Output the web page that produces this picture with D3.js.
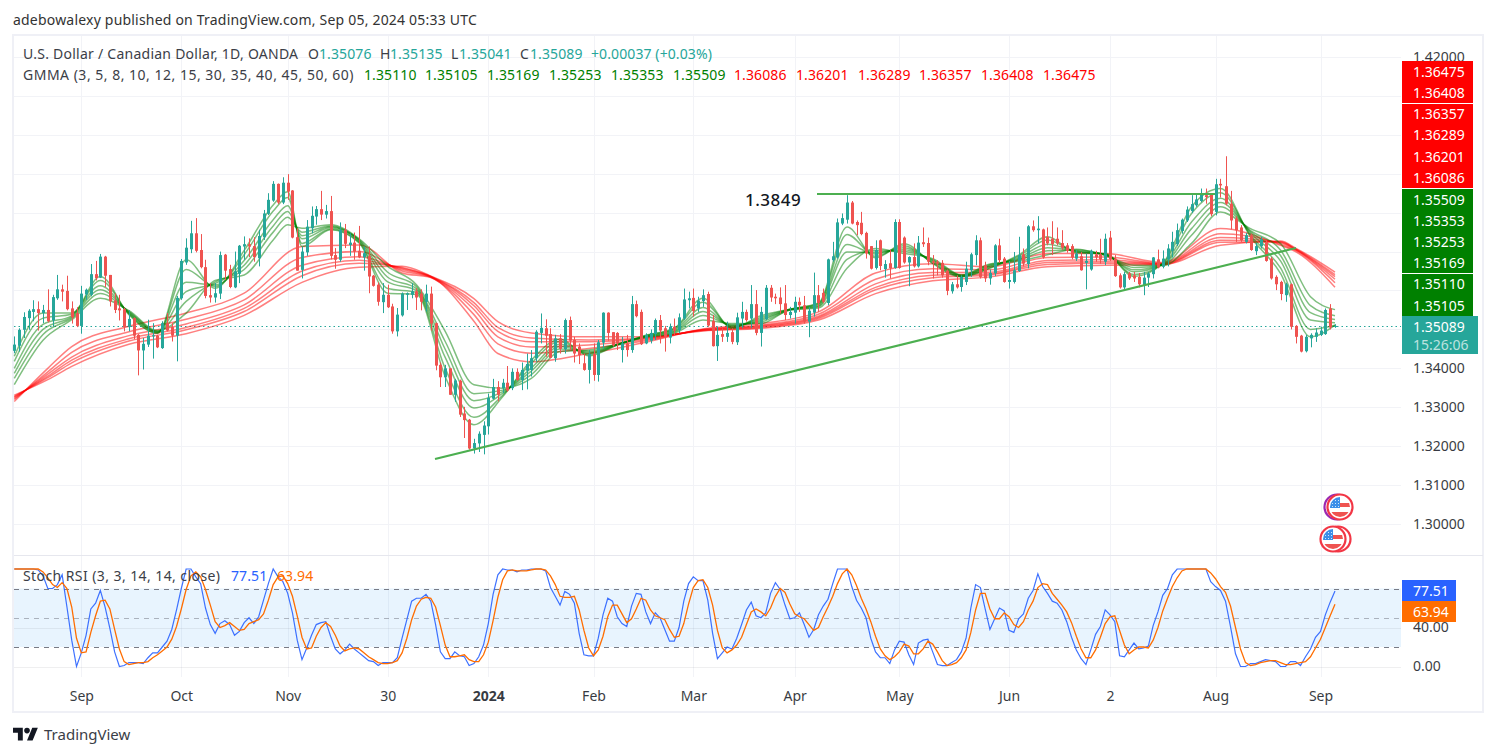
<!DOCTYPE html>
<html>
<head>
<meta charset="utf-8">
<script src="https://cdn.jsdelivr.net/npm/d3@7"></script>
<style>
  html, body { margin: 0; padding: 0; background: #fff; overflow: hidden; }
  text { font-family: "Noto Sans", sans-serif; }
</style>
</head>
<body>
<div id="chart"></div>
<script>
// candles
const opens = [
1.3445,1.3458,1.3499,1.3529,1.3545,1.3552,1.3542,1.3550,1.3523,1.3580,
1.3603,1.3599,1.3554,1.3542,1.3509,1.3590,1.3589,1.3642,1.3633,1.3687,
1.3640,1.3574,1.3554,1.3552,1.3506,1.3529,1.3486,1.3446,1.3461,1.3482,
1.3484,1.3452,1.3516,1.3506,1.3484,1.3580,1.3672,1.3706,1.3747,1.3704,
1.3660,1.3588,1.3582,1.3592,1.3692,1.3655,1.3608,1.3643,1.3713,1.3719,
1.3714,1.3683,1.3737,1.3797,1.3831,1.3874,1.3826,1.3877,1.3857,1.3737,
1.3653,1.3698,1.3760,1.3790,1.3809,1.3795,1.3804,1.3691,1.3679,1.3756,
1.3717,1.3723,1.3702,1.3685,1.3689,1.3638,1.3615,1.3570,1.3589,1.3559,
1.3495,1.3536,1.3589,1.3589,1.3598,1.3592,1.3571,1.3592,1.3516,1.3409,
1.3377,1.3400,1.3332,1.3368,1.3284,1.3268,1.3194,1.3207,1.3229,1.3251,
1.3322,1.3352,1.3349,1.3363,1.3349,1.3391,1.3370,1.3394,1.3396,1.3426,
1.3491,1.3503,1.3488,1.3426,1.3477,1.3449,1.3524,1.3473,1.3456,1.3413,
1.3396,1.3437,1.3383,1.3466,1.3543,1.3493,1.3491,1.3447,1.3464,1.3447,
1.3565,1.3545,1.3464,1.3471,1.3488,1.3524,1.3503,1.3479,1.3507,1.3498,
1.3528,1.3575,1.3581,1.3554,1.3573,1.3591,1.3522,1.3457,1.3488,1.3481,
1.3493,1.3467,1.3528,1.3545,1.3528,1.3565,1.3491,1.3526,1.3607,1.3584,
1.3582,1.3567,1.3537,1.3543,1.3571,1.3562,1.3520,1.3543,1.3588,1.3594,
1.3568,1.3678,1.3685,1.3772,1.3782,1.3826,1.3776,1.3774,1.3748,1.3714,
1.3658,1.3729,1.3655,1.3670,1.3658,1.3776,1.3736,1.3672,1.3686,1.3662,
1.3724,1.3722,1.3675,1.3674,1.3671,1.3651,1.3598,1.3616,1.3609,1.3622,
1.3652,1.3691,1.3729,1.3665,1.3631,1.3644,1.3716,1.3682,1.3622,1.3622,
1.3650,1.3693,1.3668,1.3765,1.3755,1.3757,1.3738,1.3733,1.3733,1.3722,
1.3716,1.3714,1.3682,1.3688,1.3671,1.3654,1.3693,1.3693,1.3674,1.3736,
1.3682,1.3639,1.3608,1.3644,1.3639,1.3635,1.3614,1.3633,1.3642,1.3680,
1.3661,1.3680,1.3702,1.3719,1.3753,1.3780,1.3804,1.3819,1.3830,1.3845,
1.3847,1.3802,1.3874,1.3868,1.3823,1.3785,1.3762,1.3725,1.3742,1.3701,
1.3714,1.3725,1.3682,1.3635,1.3622,1.3588,1.3616,1.3509,1.3484,1.3444,
1.3477,1.3481,1.3486,1.3488,1.3554,1.35076];
const highs = [
1.3482,1.3503,1.3544,1.3552,1.3575,1.3572,1.3563,1.3603,1.3589,1.3640,
1.3615,1.3638,1.3572,1.3557,1.3612,1.3605,1.3668,1.3676,1.3694,1.3689,
1.3640,1.3593,1.3589,1.3556,1.3549,1.3531,1.3488,1.3478,1.3525,1.3516,
1.3486,1.3521,1.3542,1.3516,1.3586,1.3681,1.3734,1.3779,1.3786,1.3745,
1.3679,1.3619,1.3619,1.3700,1.3694,1.3666,1.3700,1.3717,1.3739,1.3734,
1.3737,1.3756,1.3807,1.3850,1.3881,1.3875,1.3891,1.3899,1.3858,1.3760,
1.3713,1.3781,1.3816,1.3817,1.3856,1.3820,1.3843,1.3709,1.3775,1.3771,
1.3747,1.3749,1.3766,1.3713,1.3713,1.3640,1.3621,1.3619,1.3615,1.3566,
1.3555,1.3595,1.3595,1.3619,1.3606,1.3603,1.3615,1.3610,1.3518,1.3415,
1.3409,1.3400,1.3373,1.3371,1.3301,1.3270,1.3219,1.3238,1.3264,1.3335,
1.3373,1.3367,1.3373,1.3406,1.3400,1.3400,1.3415,1.3438,1.3447,1.3498,
1.3541,1.3526,1.3503,1.3486,1.3488,1.3528,1.3533,1.3481,1.3464,1.3438,
1.3447,1.3464,1.3473,1.3544,1.3544,1.3493,1.3493,1.3481,1.3486,1.3586,
1.3574,1.3551,1.3490,1.3500,1.3528,1.3537,1.3509,1.3515,1.3528,1.3541,
1.3605,1.3597,1.3605,1.3584,1.3603,1.3597,1.3537,1.3507,1.3503,1.3520,
1.3503,1.3543,1.3571,1.3551,1.3614,1.3601,1.3558,1.3614,1.3614,1.3592,
1.3608,1.3614,1.3558,1.3584,1.3582,1.3586,1.3558,1.3646,1.3614,1.3605,
1.3682,1.3725,1.3785,1.3798,1.3845,1.3830,1.3780,1.3802,1.3751,1.3714,
1.3729,1.3731,1.3678,1.3704,1.3783,1.3783,1.3739,1.3688,1.3721,1.3740,
1.3762,1.3736,1.3691,1.3678,1.3678,1.3654,1.3622,1.3639,1.3639,1.3674,
1.3697,1.3742,1.3736,1.3674,1.3654,1.3719,1.3733,1.3686,1.3676,1.3699,
1.3738,1.3708,1.3768,1.3780,1.3791,1.3759,1.3762,1.3778,1.3762,1.3755,
1.3722,1.3719,1.3704,1.3699,1.3695,1.3705,1.3702,1.3733,1.3746,1.3753,
1.3691,1.3644,1.3648,1.3648,1.3648,1.3645,1.3648,1.3648,1.3686,1.3705,
1.3703,1.3719,1.3751,1.3772,1.3785,1.3816,1.3845,1.3847,1.3862,1.3862,
1.3849,1.3887,1.3887,1.3945,1.3856,1.3791,1.3768,1.3748,1.3746,1.3722,
1.3738,1.3729,1.3686,1.3639,1.3625,1.3620,1.3618,1.3511,1.3486,1.3486,
1.3490,1.3503,1.3507,1.3554,1.3565,1.35135];
const lows = [
1.3439,1.3443,1.3478,1.3499,1.3521,1.3497,1.3516,1.3518,1.3507,1.3576,
1.3572,1.3549,1.3515,1.3506,1.3489,1.3576,1.3585,1.3626,1.3632,1.3609,
1.3559,1.3542,1.3523,1.3495,1.3495,1.3475,1.3382,1.3397,1.3455,1.3425,
1.3452,1.3450,1.3495,1.3469,1.3418,1.3576,1.3666,1.3696,1.3698,1.3657,
1.3580,1.3569,1.3569,1.3578,1.3627,1.3606,1.3606,1.3619,1.3679,1.3686,
1.3674,1.3662,1.3730,1.3794,1.3828,1.3822,1.3822,1.3833,1.3734,1.3651,
1.3631,1.3689,1.3747,1.3769,1.3781,1.3785,1.3680,1.3656,1.3674,1.3709,
1.3689,1.3679,1.3683,1.3651,1.3593,1.3610,1.3561,1.3542,1.3555,1.3489,
1.3482,1.3533,1.3550,1.3580,1.3550,1.3549,1.3546,1.3497,1.3395,1.3352,
1.3352,1.3332,1.3314,1.3275,1.3221,1.3191,1.3181,1.3185,1.3179,1.3230,
1.3320,1.3315,1.3336,1.3340,1.3344,1.3368,1.3344,1.3346,1.3379,1.3417,
1.3464,1.3430,1.3426,1.3417,1.3438,1.3438,1.3447,1.3415,1.3411,1.3394,
1.3361,1.3368,1.3366,1.3451,1.3471,1.3456,1.3447,1.3415,1.3430,1.3440,
1.3531,1.3460,1.3462,1.3464,1.3473,1.3464,1.3443,1.3464,1.3486,1.3490,
1.3524,1.3554,1.3533,1.3545,1.3558,1.3507,1.3456,1.3419,1.3468,1.3468,
1.3462,1.3460,1.3503,1.3520,1.3503,1.3485,1.3456,1.3524,1.3571,1.3565,
1.3541,1.3524,1.3528,1.3515,1.3545,1.3515,1.3480,1.3533,1.3545,1.3567,
1.3562,1.3674,1.3682,1.3768,1.3772,1.3770,1.3742,1.3742,1.3682,1.3654,
1.3654,1.3652,1.3633,1.3631,1.3656,1.3656,1.3669,1.3611,1.3659,1.3659,
1.3712,1.3665,1.3631,1.3639,1.3633,1.3588,1.3592,1.3605,1.3597,1.3614,
1.3635,1.3665,1.3631,1.3622,1.3615,1.3637,1.3671,1.3620,1.3605,1.3618,
1.3648,1.3662,1.3657,1.3751,1.3721,1.3682,1.3716,1.3691,1.3716,1.3704,
1.3697,1.3680,1.3676,1.3651,1.3603,1.3651,1.3674,1.3669,1.3665,1.3676,
1.3635,1.3605,1.3603,1.3627,1.3622,1.3608,1.3588,1.3609,1.3631,1.3657,
1.3657,1.3662,1.3685,1.3714,1.3746,1.3776,1.3799,1.3815,1.3827,1.3823,
1.3791,1.3793,1.3839,1.3819,1.3757,1.3725,1.3725,1.3721,1.3702,1.3691,
1.3708,1.3674,1.3628,1.3601,1.3575,1.3571,1.3500,1.3464,1.3441,1.3441,
1.3454,1.3468,1.3483,1.3486,1.3500,1.35041];
const closes = [
1.3461,1.3499,1.3532,1.3548,1.3552,1.3542,1.3550,1.3521,1.3583,1.3603,
1.3597,1.3552,1.3531,1.3509,1.3592,1.3602,1.3642,1.3632,1.3687,1.3638,
1.3572,1.3550,1.3549,1.3506,1.3527,1.3484,1.3446,1.3463,1.3484,1.3485,
1.3454,1.3516,1.3497,1.3484,1.3581,1.3676,1.3710,1.3747,1.3702,1.3660,
1.3586,1.3582,1.3593,1.3691,1.3651,1.3609,1.3649,1.3715,1.3719,1.3713,
1.3686,1.3740,1.3798,1.3833,1.3874,1.3826,1.3877,1.3854,1.3736,1.3651,
1.3700,1.3764,1.3792,1.3809,1.3795,1.3804,1.3689,1.3679,1.3756,1.3720,
1.3723,1.3700,1.3685,1.3696,1.3636,1.3612,1.3571,1.3589,1.3557,1.3495,
1.3538,1.3592,1.3593,1.3598,1.3582,1.3571,1.3592,1.3515,1.3407,1.3377,
1.3400,1.3332,1.3369,1.3281,1.3267,1.3194,1.3208,1.3232,1.3253,1.3324,
1.3352,1.3332,1.3363,1.3343,1.3391,1.3370,1.3396,1.3411,1.3426,1.3494,
1.3504,1.3484,1.3427,1.3477,1.3450,1.3524,1.3471,1.3438,1.3434,1.3396,
1.3437,1.3383,1.3467,1.3543,1.3491,1.3459,1.3464,1.3464,1.3447,1.3565,
1.3534,1.3462,1.3486,1.3491,1.3524,1.3497,1.3481,1.3507,1.3497,1.3531,
1.3577,1.3580,1.3547,1.3574,1.3588,1.3510,1.3457,1.3486,1.3481,1.3491,
1.3468,1.3531,1.3545,1.3524,1.3565,1.3491,1.3545,1.3607,1.3582,1.3580,
1.3565,1.3537,1.3545,1.3571,1.3562,1.3520,1.3548,1.3588,1.3568,1.3571,
1.3680,1.3688,1.3775,1.3786,1.3826,1.3772,1.3768,1.3745,1.3695,1.3656,
1.3704,1.3663,1.3668,1.3657,1.3776,1.3658,1.3672,1.3686,1.3662,1.3723,
1.3719,1.3674,1.3671,1.3669,1.3639,1.3599,1.3616,1.3608,1.3635,1.3656,
1.3693,1.3729,1.3635,1.3631,1.3645,1.3716,1.3678,1.3622,1.3627,1.3652,
1.3691,1.3669,1.3765,1.3755,1.3759,1.3685,1.3721,1.3719,1.3721,1.3710,
1.3702,1.3685,1.3695,1.3652,1.3676,1.3702,1.3685,1.3680,1.3733,1.3680,
1.3637,1.3608,1.3642,1.3631,1.3631,1.3616,1.3633,1.3644,1.3685,1.3659,
1.3682,1.3708,1.3725,1.3755,1.3782,1.3808,1.3822,1.3834,1.3849,1.3840,
1.3796,1.3873,1.3870,1.3823,1.3780,1.3755,1.3729,1.3742,1.3704,1.3714,
1.3731,1.3676,1.3631,1.3616,1.3591,1.3616,1.3507,1.3481,1.3443,1.3481,
1.3486,1.3492,1.3497,1.3550,1.3505,1.35089];

// GMMA short group, read at these bars
const shortIdx = [0,6,12,18,24,30,36,42,48,54,57,60,66,72,78,84,90,96,102,108,114,120,126,132,138,144,150,156,162,168,174,180,186,192,198,204,210,216,222,228,234,240,246,252,258,264,270,275];
const ema3 = [1.3431,1.3542,1.3542,1.3636,1.3538,1.3490,1.3679,1.3606,1.3703,1.3820,1.3854,1.3713,1.3756,1.3722,1.3593,1.3590,1.3379,1.3255,1.3327,1.3421,1.3475,1.3432,1.3460,1.3485,1.3503,1.3580,1.3503,1.3535,1.3552,1.3568,1.3763,1.3684,1.3720,1.3669,1.3635,1.3657,1.3691,1.3738,1.3697,1.3695,1.3636,1.3670,1.3815,1.3862,1.3738,1.3644,1.3481,1.35110];
const ema5 = [1.3418,1.3529,1.3539,1.3626,1.3540,1.3491,1.3654,1.3610,1.3692,1.3804,1.3839,1.3721,1.3758,1.3724,1.3605,1.3595,1.3400,1.3274,1.3331,1.3413,1.3469,1.3435,1.3460,1.3484,1.3501,1.3570,1.3505,1.3531,1.3552,1.3566,1.3744,1.3688,1.3715,1.3671,1.3636,1.3659,1.3688,1.3730,1.3699,1.3694,1.3641,1.3669,1.3798,1.3851,1.3742,1.3658,1.3500,1.35105];
const ema8 = [1.3400,1.3513,1.3535,1.3612,1.3542,1.3493,1.3621,1.3614,1.3677,1.3782,1.3818,1.3733,1.3761,1.3727,1.3622,1.3600,1.3428,1.3298,1.3336,1.3401,1.3462,1.3438,1.3461,1.3483,1.3498,1.3556,1.3508,1.3527,1.3551,1.3563,1.3718,1.3694,1.3710,1.3674,1.3637,1.3662,1.3684,1.3719,1.3701,1.3693,1.3648,1.3667,1.3776,1.3837,1.3747,1.3676,1.3524,1.35169];
const ema10 = [1.3387,1.3500,1.3532,1.3602,1.3544,1.3494,1.3597,1.3618,1.3665,1.3766,1.3803,1.3741,1.3764,1.3729,1.3634,1.3605,1.3449,1.3317,1.3340,1.3393,1.3456,1.3441,1.3461,1.3482,1.3495,1.3546,1.3510,1.3523,1.3551,1.3560,1.3699,1.3698,1.3705,1.3677,1.3638,1.3664,1.3681,1.3710,1.3702,1.3692,1.3653,1.3666,1.3759,1.3826,1.3751,1.3690,1.3543,1.35253];
const ema12 = [1.3374,1.3487,1.3529,1.3592,1.3546,1.3495,1.3572,1.3622,1.3654,1.3750,1.3788,1.3750,1.3766,1.3731,1.3647,1.3610,1.3469,1.3335,1.3344,1.3384,1.3450,1.3444,1.3462,1.3481,1.3493,1.3536,1.3512,1.3519,1.3550,1.3558,1.3680,1.3703,1.3700,1.3679,1.3639,1.3666,1.3679,1.3702,1.3704,1.3691,1.3659,1.3665,1.3742,1.3815,1.3754,1.3704,1.3561,1.35353];
const ema15 = [1.3358,1.3472,1.3525,1.3580,1.3548,1.3497,1.3542,1.3626,1.3640,1.3730,1.3769,1.3760,1.3769,1.3733,1.3662,1.3615,1.3495,1.3358,1.3349,1.3374,1.3443,1.3447,1.3462,1.3480,1.3490,1.3524,1.3515,1.3515,1.3550,1.3555,1.3657,1.3708,1.3695,1.3682,1.3640,1.3668,1.3675,1.3692,1.3706,1.3690,1.3665,1.3664,1.3721,1.3802,1.3759,1.3721,1.3584,1.35509];

// GMMA long group
const longIdx = [0,7,12,24,36,48,60,72,81,87,96,101,108,120,132,144,156,168,180,192,204,216,228,240,252,264,267,275];
const ema30 = [1.3315,1.3400,1.3456,1.3508,1.3542,1.3593,1.3713,1.3717,1.3645,1.3633,1.3521,1.3438,1.3417,1.3438,1.3467,1.3501,1.3515,1.3545,1.3645,1.3669,1.3661,1.3695,1.3695,1.3672,1.3759,1.3716,1.3700,1.36086];
const ema35 = [1.3320,1.3391,1.3441,1.3494,1.3526,1.3576,1.3685,1.3700,1.3650,1.3634,1.3538,1.3463,1.3439,1.3451,1.3471,1.3500,1.3511,1.3539,1.3629,1.3656,1.3653,1.3685,1.3686,1.3670,1.3746,1.3719,1.3703,1.36201];
const ema40 = [1.3323,1.3385,1.3429,1.3484,1.3514,1.3563,1.3665,1.3687,1.3654,1.3635,1.3551,1.3481,1.3455,1.3460,1.3474,1.3499,1.3509,1.3534,1.3617,1.3646,1.3647,1.3677,1.3679,1.3669,1.3736,1.3722,1.3705,1.36289];
const ema45 = [1.3326,1.3380,1.3421,1.3476,1.3505,1.3554,1.3650,1.3678,1.3657,1.3636,1.3561,1.3495,1.3468,1.3468,1.3477,1.3498,1.3507,1.3531,1.3608,1.3639,1.3643,1.3672,1.3674,1.3668,1.3729,1.3724,1.3706,1.36357];
const ema50 = [1.3328,1.3376,1.3414,1.3470,1.3499,1.3546,1.3638,1.3670,1.3659,1.3636,1.3569,1.3505,1.3478,1.3473,1.3478,1.3497,1.3505,1.3528,1.3602,1.3633,1.3640,1.3667,1.3670,1.3667,1.3724,1.3725,1.3707,1.36408];
const ema60 = [1.3331,1.3371,1.3405,1.3462,1.3489,1.3536,1.3621,1.3660,1.3662,1.3637,1.3579,1.3520,1.3491,1.3481,1.3481,1.3496,1.3503,1.3524,1.3592,1.3625,1.3635,1.3661,1.3665,1.3666,1.3716,1.3727,1.3709,1.36475];

// Stoch RSI, one value per bar
const stochK = [
100,100,100,100,100,99,93,80,80,84,
94,61,27,0,14,32,59,65,78,61,
39,15,0,1,4,4,4,3,9,14,
14,20,26,38,58,80,100,100,92,85,
60,43,34,44,47,43,32,36,45,50,
44,51,68,85,100,92,87,75,55,27,
7,19,32,43,45,46,31,18,13,17,
23,18,14,10,6,5,1,4,4,4,
9,29,48,67,70,70,74,67,43,15,
8,8,15,11,10,1,3,10,22,44,
74,94,100,99,99,97,99,99,100,100,
100,98,81,72,63,77,74,65,34,12,
11,11,29,53,70,67,51,44,41,62,
75,74,56,44,55,50,38,26,26,40,
67,85,92,88,88,68,34,8,14,20,
18,29,43,58,66,52,50,55,75,86,
79,63,49,50,55,43,30,38,53,62,
69,85,100,100,100,82,68,60,50,29,
15,9,9,3,17,26,25,12,2,24,
27,28,15,2,1,1,4,7,15,29,
60,84,81,59,38,49,60,57,37,35,
49,54,70,78,95,82,75,67,65,58,
46,30,17,8,2,17,33,41,58,53,
46,11,10,17,24,18,19,21,42,56,
73,80,94,100,100,100,100,100,100,100,
87,82,78,67,41,13,0,0,3,3,
5,7,6,5,0,0,5,5,1,10,
18,30,36,53,66,77.51];
const stochD = [
100,100,100,100,100,100,97,91,84,81,
86,80,61,29,14,15,35,52,67,68,
59,38,18,5,2,3,4,4,5,9,
12,16,20,28,41,59,79,93,97,92,
79,63,46,40,42,45,41,37,38,44,
46,48,54,68,84,92,93,85,72,52,
30,18,19,31,40,45,41,32,21,16,
18,19,18,14,10,7,4,3,3,4,
6,14,29,48,62,69,71,70,61,42,
22,10,10,11,12,7,5,5,12,25,
47,71,89,98,99,98,98,98,99,100,
100,99,93,84,72,71,71,72,58,37,
19,11,17,31,51,63,63,54,45,49,
59,70,68,58,52,50,48,38,30,31,
44,64,81,88,89,81,63,37,19,14,
17,22,30,43,56,59,56,52,60,72,
80,76,64,54,51,49,43,37,40,51,
61,72,85,95,100,94,83,70,59,46,
31,18,11,7,10,15,23,21,13,13,
18,26,23,15,6,1,2,4,9,17,
35,58,75,75,59,49,49,55,51,43,
40,46,58,67,81,85,84,75,69,63,
56,45,31,18,9,9,17,30,44,51,
52,37,22,13,17,20,20,19,27,40,
57,70,82,91,98,100,100,100,100,100,
96,90,82,76,62,40,18,4,1,2,
4,5,6,6,4,2,2,3,4,5,
10,19,28,40,52,63.94];

// time axis
const tickIdx = [14,35,57,78,99,121,142,163,185,208,229,251,272];
const tickLabels = ["Sep","Oct","Nov","30","2024","Feb","Mar","Apr","May","Jun","2","Aug","Sep"];
const priceTicks = [1.30,1.31,1.32,1.33,1.34,1.35,1.36,1.37,1.38,1.39,1.40,1.41,1.42];
// the others sit behind the stacked GMMA labels
const priceLabelTicks = [1.30,1.31,1.32,1.33,1.34,1.42];
const stochTicks = [0,40];

const W = 1496, H = 756;
const green = "#26a69a", red = "#ef5350";
const plotL = 14, plotR = 1401;

// bars are not quite evenly spread, so fit the scale on the month ticks
const x = d3.scaleLinear()
    .domain([0].concat(tickIdx, [275]))
    .range([14.3,81.3,181.3,287.7,387.7,488.3,593.5,693.3,794.7,899.3,1009,1110,1215.5,1320.5,1335]);
const y = d3.scaleLinear().domain([1.30,1.42]).range([524,57]);
const yS = d3.scaleLinear().domain([0,100]).range([666.5,569]);

const svg = d3.select("#chart").append("svg").attr("width",W).attr("height",H).style("display","block");

svg.append("text").attr("x",13).attr("y",25).attr("font-size",14).attr("fill","#333").attr("letter-spacing",0.2)
    .text("adebowalexy published on TradingView.com, Sep 05, 2024 05:33 UTC");

// frame
svg.append("rect").attr("x",13).attr("y",35).attr("width",1470).attr("height",677)
    .attr("fill","#fff").attr("stroke","#eff0f6").attr("stroke-width",2);

// grids
let gridG = svg.append("g");
gridG.selectAll(".gx").data(tickIdx).join("line")
    .attr("x1",d=>Math.round(x(d))+.5).attr("x2",d=>Math.round(x(d))+.5)
    .attr("y1",36).attr("y2",677).attr("stroke","#f2f3f7");
gridG.selectAll(".gy").data(priceTicks).join("line")
    .attr("x1",plotL).attr("x2",plotR)
    .attr("y1",d=>Math.round(y(d))+.5).attr("y2",d=>Math.round(y(d))+.5).attr("stroke","#f2f3f7").attr("stroke-width",1);

// last price line
svg.append("line").attr("x1",plotL).attr("x2",plotR)
    .attr("y1",Math.round(y(closes[275]))+.5).attr("y2",Math.round(y(closes[275]))+.5)
    .attr("stroke",green).attr("stroke-dasharray","1.5 3");

// GMMA
let lineGen = (idx) => d3.line().x((d,i)=>x(idx[i])).y(d=>y(d)).curve(d3.curveMonotoneX);
let gmmaG = svg.append("g").attr("fill","none").attr("stroke-width",1.5);
[ema30,ema35,ema40,ema45,ema50,ema60].forEach(s => {
    gmmaG.append("path").attr("d",lineGen(longIdx)(s)).attr("stroke","rgba(255,0,0,0.5)");
});
[ema3,ema5,ema8,ema10,ema12,ema15].forEach(s => {
    gmmaG.append("path").attr("d",lineGen(shortIdx)(s)).attr("stroke","rgba(0,128,0,0.5)");
});

// candles
let candleG = svg.append("g");
let bars = candleG.selectAll("g").data(d3.range(closes.length)).join("g")
    .attr("fill",i=> closes[i]>=opens[i] ? green : red);
bars.append("rect").attr("x",i=>Math.round(x(i))).attr("width",1)
    .attr("y",i=>y(highs[i])).attr("height",i=>y(lows[i])-y(highs[i]));
bars.append("rect").attr("x",i=>Math.round(x(i))-1).attr("width",3)
    .attr("y",i=>y(Math.max(opens[i],closes[i])))
    .attr("height",i=>Math.max(1,Math.abs(y(opens[i])-y(closes[i]))));

// hand drawn trend lines
let trendG = svg.append("g").attr("stroke","#4caf50").attr("stroke-width",2);
trendG.append("line").attr("x1",817).attr("y1",194).attr("x2",1215).attr("y2",194);
trendG.append("line").attr("x1",435).attr("y1",459).attr("x2",1296).attr("y2",248);
svg.append("text").attr("x",745).attr("y",206).attr("font-size",17).attr("font-weight",500)
    .attr("fill","#131722").attr("letter-spacing",0.5).text("1.3849");

// economic event flags
function flag(cx, cy, bx, ringBack, id) {
    let g = svg.append("g");
    g.append("circle").attr("cx",bx).attr("cy",cy).attr("r",12.5).attr("fill","#fff").attr("stroke",ringBack).attr("stroke-width",2.2);
    g.append("circle").attr("cx",cx).attr("cy",cy).attr("r",12.5).attr("fill","#fff").attr("stroke","#f23645").attr("stroke-width",2.2);
    g.append("clipPath").attr("id",id).append("circle").attr("cx",cx).attr("cy",cy).attr("r",10);
    let f = g.append("g").attr("clip-path","url(#"+id+")");
    f.append("rect").attr("x",cx-1).attr("y",cy-4).attr("width",12).attr("height",4).attr("fill","#ef5350");
    f.append("rect").attr("x",cx-11).attr("y",cy+5).attr("width",22).attr("height",6).attr("fill","#ef5350");
    f.append("rect").attr("x",cx-11).attr("y",cy-11).attr("width",11).attr("height",12).attr("fill","#3d8fe8");
    d3.range(3).forEach(r => d3.range(3).forEach(c => {
        f.append("rect").attr("x",cx-8+c*3).attr("y",cy-7+r*3).attr("width",1).attr("height",1).attr("fill","#cfe4fb");
    }));
}
flag(1340,507,1337,"#9c27b0","flagA");
flag(1333,539,1338,"#f23645","flagB");

// pane separator
svg.append("line").attr("x1",14).attr("x2",1483).attr("y1",555.5).attr("y2",555.5).attr("stroke","#e6e7ee");

// stoch pane
svg.append("rect").attr("x",plotL).attr("width",plotR-plotL).attr("y",yS(80)).attr("height",yS(20)-yS(80)).attr("fill","rgba(33,150,243,0.1)");
[[80,"#787b86"],[50,"rgba(120,123,134,0.55)"],[20,"#787b86"]].forEach(b => {
    svg.append("line").attr("x1",plotL).attr("x2",plotR)
        .attr("y1",Math.round(yS(b[0]))+.5).attr("y2",Math.round(yS(b[0]))+.5)
        .attr("stroke",b[1]).attr("stroke-dasharray","5 5");
});
stochTicks.forEach(t => {
    svg.append("line").attr("x1",plotL).attr("x2",plotR).attr("y1",Math.round(yS(t))+.5).attr("y2",Math.round(yS(t))+.5).attr("stroke","rgba(120,123,134,0.12)");
});
let stochLine = d3.line().x((d,i)=>x(i)).y(d=>yS(d));
svg.append("path").attr("d",stochLine(stochK)).attr("fill","none").attr("stroke","#2962ff").attr("stroke-width",1.2).attr("opacity",.9);
svg.append("path").attr("d",stochLine(stochD)).attr("fill","none").attr("stroke","#ff6d00").attr("stroke-width",1.3);

// axes
let xAxis = d3.axisBottom(x).tickValues(tickIdx).tickFormat((d,i)=>tickLabels[i]).tickSize(0);
let xG = svg.append("g").attr("transform","translate(0,685)").call(xAxis);
xG.select(".domain").remove();
xG.selectAll("text").attr("font-size",14).attr("fill","#131722").attr("opacity",.85)
    .attr("font-family",'"Noto Sans", sans-serif')
    .attr("font-weight",d=>d==99?700:400).attr("dy","0.95em");

let yAxis = d3.axisRight(y).tickValues(priceLabelTicks).tickFormat(d3.format(".5f")).tickSize(0).tickPadding(0);
let yG = svg.append("g").attr("transform","translate(1413,0)").call(yAxis);
yG.select(".domain").remove();
yG.selectAll("text").attr("font-size",14).attr("fill","#131722").attr("opacity",.85).attr("font-family",'"Noto Sans", sans-serif');

let ySAxis = d3.axisRight(yS).tickValues(stochTicks).tickFormat(d3.format(".2f")).tickSize(0).tickPadding(0);
let ySG = svg.append("g").attr("transform","translate(1413,0)").call(ySAxis);
ySG.select(".domain").remove();
ySG.selectAll("text").attr("font-size",14).attr("fill","#131722").attr("opacity",.85).attr("font-family",'"Noto Sans", sans-serif');

// price labels stacked on the right
const gmmaColors = ["#ff0000","#ff0000","#008000","#008000"];
[[61,42,0],[104,84,1],[189,84,2],[274,42,3]].forEach(b => {
    svg.append("rect").attr("x",1402).attr("y",b[0]).attr("width",71).attr("height",b[1]).attr("fill",gmmaColors[b[2]]);
});
const axisLabels = ["1.36475","1.36408","1.36357","1.36289","1.36201","1.36086","1.35509","1.35353","1.35253","1.35169","1.35110","1.35105"];
const axisLabelY = [72,92.5,114,135,157,178,200,221,242,263,284,306];
svg.selectAll(".axl").data(axisLabels).join("text")
    .attr("x",1413).attr("y",(d,i)=>axisLabelY[i]+5).attr("font-size",14).attr("fill","#fff").text(d=>d);
svg.append("rect").attr("x",1402).attr("y",316).attr("width",76).attr("height",38).attr("fill",green);
svg.append("text").attr("x",1413).attr("y",332).attr("font-size",14).attr("fill","#fff").text("1.35089");
svg.append("text").attr("x",1413).attr("y",350).attr("font-size",14).attr("fill","rgba(255,255,255,0.7)").text("15:26:06");
svg.append("rect").attr("x",1402).attr("y",580).attr("width",54).attr("height",21).attr("fill","#2962ff");
svg.append("rect").attr("x",1402).attr("y",601).attr("width",54).attr("height",21).attr("fill","#ff6d00");
svg.append("text").attr("x",1413).attr("y",596).attr("font-size",14).attr("fill","#fff").text("77.51");
svg.append("text").attr("x",1413).attr("y",617).attr("font-size",14).attr("fill","#fff").text("63.94");

// legends
function legendRow(yPos, items) {
    let t = svg.append("text").attr("y",yPos).attr("font-size",14);
    items.forEach(it => {
        t.append("tspan").attr("x",it[1]).attr("fill",it[2]).attr("letter-spacing",it[3]||0.1).text(it[0]);
    });
}
const lblCol = "#3b3e47", upCol = "#26a69a", gmG = "#008000", gmR = "#ff0000";
legendRow(59,[["U.S. Dollar / Canadian Dollar, 1D, OANDA",23,lblCol,0.25],["O",308,lblCol],["1.35076",319,upCol],["H",380,lblCol],["1.35135",390,upCol],["L",451,lblCol],["1.35041",459,upCol],["C",520,lblCol],["1.35089",530,upCol],["+0.00037 (+0.03%)",591,upCol]]);
legendRow(80,[["GMMA (3, 5, 8, 10, 12, 15, 30, 35, 40, 45, 50, 60)",23,lblCol,0.5],["1.35110",364,gmG],["1.35105",425,gmG],["1.35169",487,gmG],["1.35253",549,gmG],["1.35353",611,gmG],["1.35509",673,gmG],["1.36086",734,gmR],["1.36201",796,gmR],["1.36289",858,gmR],["1.36357",919,gmR],["1.36408",981,gmR],["1.36475",1043,gmR]]);
legendRow(581,[["Stoch RSI (3, 3, 14, 14, close)",23,lblCol,0.42],["77.51",231,"#2962ff"],["63.94",277,"#ff6d00"]]);

// TradingView logo
svg.append("g").attr("transform","translate(13,725) scale(0.7)")
    .html('<path d="M14 22H7V11H0V4h14v18zM28 22h-8l7.5-18h8L28 22z" fill="#131722"/><circle cx="20" cy="8" r="4" fill="#131722"/>');
svg.append("text").attr("x",44).attr("y",740).attr("font-size",15).attr("fill","#3b3e47").text("TradingView");
</script>
</body>
</html>
